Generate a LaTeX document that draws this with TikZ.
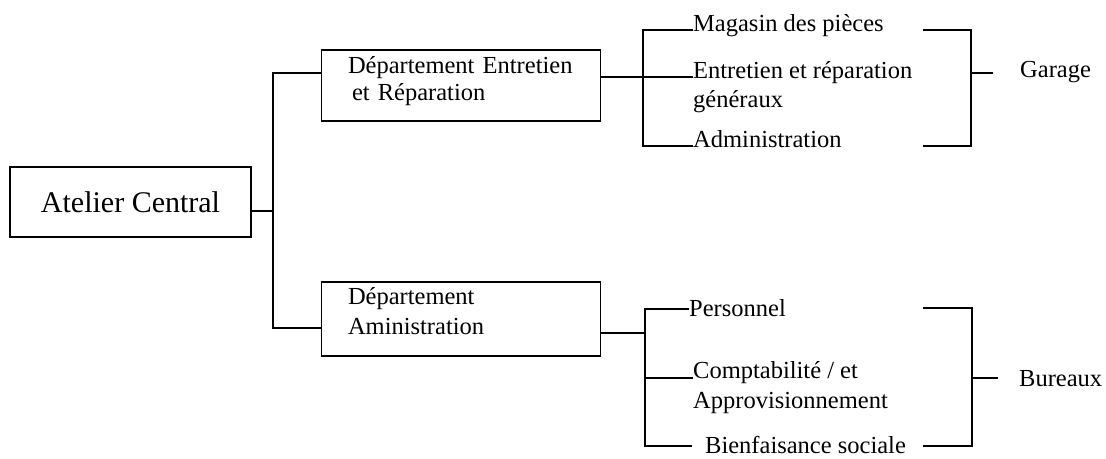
\documentclass[tikz,border=0pt]{standalone}
\usepackage{fontspec}
\setmainfont{Liberation Serif}
\begin{document}
\begin{tikzpicture}[x=1pt,y=-1pt,
  wire/.style={line width=1.6pt},
  box/.style={draw, line width=1.6pt, inner sep=0pt},
  deptbox/.style={box, minimum width=279pt, text width=226pt, inner xsep=26.5pt, align=left, font=\fontsize{24.5}{27}\selectfont},
  lbl/.style={anchor=base west, inner sep=0pt, font=\fontsize{24.5}{27}\selectfont}]
\useasboundingbox (0,0) rectangle (1106,458);

% boxes
\node[box, minimum width=241pt, minimum height=70pt, font=\fontsize{30}{36}\selectfont] (atelier) at (130.5,202) {Atelier Central};
\node[deptbox, minimum height=71pt] (dent) at (461,85.5) {Département Entretien\\\hspace*{4pt}et Réparation\rule[-15pt]{0pt}{15pt}};
\node[deptbox, minimum height=74pt] (dadm) at (461,319) {Département\\[3pt]Aministration\rule[-16pt]{0pt}{16pt}};

% first level connectors
\coordinate (t0) at (273,211);
\coordinate (t1) at (273,73);
\coordinate (t2) at (273,328);
\draw[wire] (atelier.east |- t0) -- (t0);
\draw[wire] (dent.west |- t1) -- (t1) -- (t2) -- (dadm.west |- t2);

% labels
\node[lbl] (mag) at (693,31) {Magasin des pièces};
\node[lbl] (ent) at (693,78) {\begin{tabular}[t]{@{}l@{}}Entretien et réparation\\[2pt]généraux\end{tabular}};
\node[lbl] (adm) at (693,147) {Administration};
\node[lbl] (gar) at (1020,77) {Garage};
\node[lbl] (per) at (689,316) {Personnel};
\node[lbl] (cpt) at (693,378) {\begin{tabular}[t]{@{}l@{}}Comptabilité / et\\[3pt]Approvisionnement\end{tabular}};
\node[lbl] (bien) at (705,453) {Bienfaisance sociale};
\node[lbl] (bur) at (1019,386) {Bureaux};

% upper bracket group
\coordinate (l1t) at (643,30);
\coordinate (l1m) at (643,77);
\coordinate (l1b) at (643,146);
\draw[wire] (dent.east |- l1m) -- (l1m);
\draw[wire] (mag.west |- l1t) -- (l1t) -- (l1b) -- (adm.west |- l1b);
\draw[wire] (l1m) -- (ent.west |- l1m);
\coordinate (r1a) at (923,30);
\coordinate (r1t) at (971,30);
\coordinate (r1b) at (971,146);
\coordinate (r1c) at (923,146);
\coordinate (r1m) at (971,73);
\coordinate (g1) at (993,73);
\draw[wire] (r1a) -- (r1t) -- (r1b) -- (r1c);
\draw[wire] (r1m) -- (g1);

% lower bracket group
\coordinate (l2t) at (645,309);
\coordinate (l2m) at (645,333);
\coordinate (l2c) at (645,378);
\coordinate (l2b) at (645,446);
\coordinate (l2e) at (692,446);
\draw[wire] (dadm.east |- l2m) -- (l2m);
\draw[wire] (per.west |- l2t) -- (l2t) -- (l2b) -- (l2e);
\draw[wire] (l2c) -- (cpt.west |- l2c);
\coordinate (r2a) at (923,308);
\coordinate (r2t) at (972,308);
\coordinate (r2b) at (972,446);
\coordinate (r2c) at (923,446);
\coordinate (r2m) at (972,378);
\coordinate (g2) at (998,378);
\draw[wire] (r2a) -- (r2t) -- (r2b) -- (r2c);
\draw[wire] (r2m) -- (g2);
\end{tikzpicture}
\end{document}
